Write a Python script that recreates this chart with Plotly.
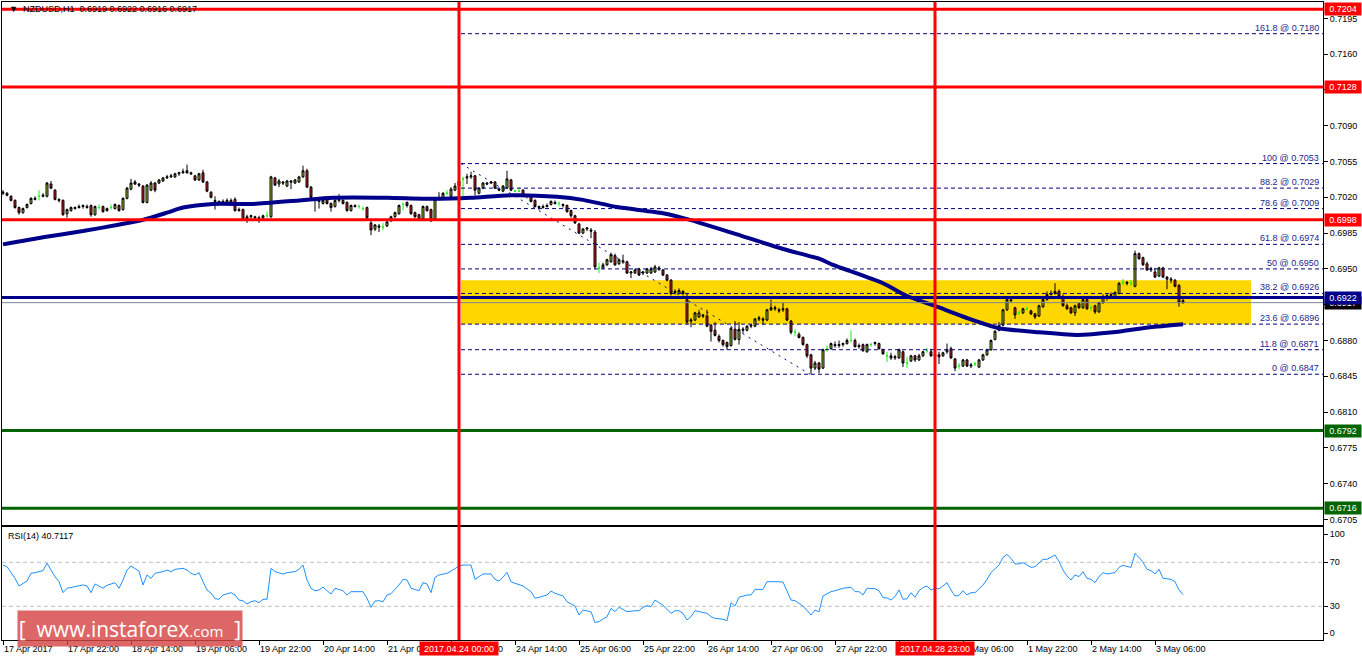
import plotly.graph_objects as go

# ---------------- DATA (prices in pips, 0.xxxx * 10000) ----------------
opens = [
7024,7024,7021,7017,7010,7005,7010,7014,7019,7021,7021,7021,7033,7027,7018,7017,7004,7007,7009,7010,
7011,7011,7012,7003,7010,7011,7007,7010,7009,7012,7008,7019,7028,7035,7033,7031,7015,7027,7034,7034,
7036,7039,7040,7040,7043,7044,7046,7044,7041,7037,7044,7035,7025,7017,7016,7015,7017,7014,7018,7007,
7008,6999,7001,7001,7000,7000,7002,7001,7039,7033,7035,7031,7036,7034,7035,7040,7046,7030,7019,7017,
7014,7018,7014,7011,7017,7017,7015,7007,7012,7011,7009,7010,6995,6989,6992,6991,6992,6997,7001,7004,
7013,7015,7012,7005,7003,6999,7011,7008,6998,7018,7020,7024,7021,7027,7031,7038,7039,7040,7041,7024,
7029,7034,7034,7035,7028,7026,7029,7037,7026,7026,7027,7022,7021,7017,7011,7010,7011,7013,7015,7014,
7013,7012,7007,7002,6994,6985,6989,6988,6986,6951,6951,6954,6957,6963,6955,6958,6957,6946,6946,6950,
6946,6946,6946,6947,6951,6949,6944,6939,6927,6926,6928,6920,6899,6900,6903,6905,6904,6895,6890,6884,
6880,6878,6875,6891,6881,6890,6890,6894,6894,6901,6901,6900,6910,6911,6910,6910,6911,6899,6888,6886,
6883,6876,6866,6853,6858,6853,6872,6872,6876,6875,6876,6877,6880,6880,6874,6876,6869,6876,6877,6877,
6871,6865,6865,6863,6863,6869,6858,6860,6865,6861,6865,6870,6869,6865,6866,6865,6869,6872,6862,6855,
6855,6861,6855,6857,6854,6861,6866,6871,6881,6890,6895,6910,6920,6912,6907,6907,6911,6909,6906,6904,
6913,6920,6925,6926,6928,6923,6914,6912,6907,6916,6912,6920,6912,6914,6908,6917,6921,6924,6923,6926,
6937,6937,6936,6933,6965,6961,6955,6949,6947,6943,6951,6942,6939,6939,6934,6919]
highs = [
7027,7025,7022,7018,7011,7010,7014,7020,7021,7027,7024,7035,7036,7028,7019,7018,7009,7011,7011,7013,
7013,7013,7013,7012,7013,7012,7010,7013,7014,7013,7020,7030,7038,7037,7034,7032,7033,7036,7035,7038,
7040,7042,7043,7044,7045,7048,7052,7045,7042,7044,7047,7036,7026,7021,7017,7018,7019,7019,7020,7010,
7009,7003,7003,7002,7002,7003,7006,7041,7040,7038,7036,7037,7037,7038,7041,7051,7048,7031,7020,7019,
7018,7019,7015,7018,7023,7018,7016,7013,7013,7013,7011,7011,6999,6994,6994,6995,6997,7002,7006,7013,
7015,7016,7013,7006,7004,7012,7012,7009,7019,7025,7025,7027,7030,7034,7053,7040,7043,7045,7042,7030,
7035,7035,7036,7036,7029,7032,7046,7038,7027,7030,7028,7023,7022,7018,7012,7013,7014,7017,7017,7016,
7014,7013,7008,7003,6995,6990,6991,6990,6988,6956,6956,6960,6966,6965,6960,6964,6958,6948,6950,6951,
6948,6951,6952,6954,6953,6950,6945,6940,6930,6931,6929,6926,6902,6908,6910,6906,6910,6896,6898,6886,
6881,6879,6893,6899,6898,6893,6895,6896,6902,6904,6903,6911,6920,6914,6912,6917,6912,6900,6891,6888,
6884,6877,6867,6860,6859,6872,6875,6878,6879,6880,6878,6882,6890,6882,6877,6877,6877,6878,6879,6878,
6872,6869,6868,6866,6872,6870,6864,6866,6866,6867,6870,6873,6872,6868,6869,6869,6877,6874,6863,6858,
6862,6862,6858,6859,6862,6867,6872,6881,6890,6898,6911,6922,6922,6913,6909,6912,6913,6910,6907,6915,
6922,6928,6929,6936,6930,6925,6916,6913,6915,6917,6922,6922,6915,6915,6918,6925,6926,6927,6928,6937,
6940,6938,6939,6968,6966,6962,6957,6952,6951,6952,6952,6943,6942,6940,6935,6922]
lows = [
7022,7021,7016,7009,7003,7004,7009,7013,7017,7017,7020,7020,7028,7017,7015,7002,7000,7006,7008,7009,
7009,7009,7001,7002,7008,7005,7006,7008,7008,7006,7007,7018,7027,7032,7030,7014,7014,7026,7025,7033,
7035,7038,7039,7039,7041,7043,7043,7042,7036,7036,7034,7025,7019,7008,7013,7014,7013,7013,7006,7006,
6997,6995,6999,6998,6995,6999,7000,7000,7031,7030,7032,7030,7028,7033,7034,7039,7029,7019,7006,7009,
7013,7013,7006,7010,7015,7013,7006,7006,7010,7009,7007,6999,6983,6987,6986,6988,6991,6996,7000,7003,
7007,7010,7003,7000,6997,6998,7006,6996,6997,7017,7019,7022,7020,7026,7030,7021,7033,7038,7022,7023,
7028,7032,7033,7028,7026,7025,7028,7026,7025,7025,7021,7019,7015,7010,7008,7009,7010,7012,7013,7011,
7010,7005,7000,6994,6984,6984,6987,6980,6950,6946,6950,6953,6956,6953,6954,6955,6945,6941,6945,6943,
6944,6945,6945,6946,6948,6943,6938,6924,6925,6925,6924,6896,6893,6899,6902,6902,6893,6879,6884,6878,
6874,6871,6874,6880,6876,6887,6889,6892,6893,6899,6895,6899,6909,6909,6907,6908,6899,6886,6884,6882,
6875,6863,6847,6851,6848,6852,6869,6871,6873,6873,6874,6876,6878,6873,6872,6869,6868,6874,6875,6871,
6866,6859,6861,6861,6862,6854,6853,6859,6859,6860,6864,6868,6864,6863,6857,6864,6867,6862,6850,6852,
6854,6854,6853,6855,6853,6860,6865,6870,6880,6889,6894,6909,6917,6901,6905,6906,6909,6905,6901,6903,
6912,6919,6924,6925,6922,6913,6910,6906,6904,6911,6911,6910,6909,6906,6907,6916,6919,6922,6922,6925,
6934,6934,6933,6932,6959,6953,6948,6947,6941,6942,6941,6930,6936,6932,6913,6916]
closes = [
7025,7022,7017,7010,7005,7009,7013,7019,7018,7021,7022,7034,7029,7018,7017,7003,7008,7010,7010,7011,
7012,7010,7003,7011,7010,7006,7009,7010,7013,7007,7019,7029,7034,7033,7032,7015,7032,7034,7027,7037,
7039,7040,7041,7043,7044,7045,7044,7043,7037,7043,7035,7026,7020,7016,7015,7016,7014,7017,7007,7008,
6998,7001,7002,7000,6999,7002,7002,7040,7032,7036,7034,7036,7035,7037,7040,7046,7030,7020,7018,7016,
7017,7014,7010,7017,7018,7014,7007,7012,7011,7011,7009,7000,6988,6993,6991,6991,6996,7001,7005,7012,
7013,7012,7004,7001,6998,7011,7007,6997,7018,7020,7024,7024,7028,7031,7036,7038,7040,7041,7027,7029,
7034,7033,7035,7029,7027,7031,7038,7027,7026,7026,7022,7021,7016,7011,7010,7011,7012,7016,7014,7014,
7012,7006,7002,6995,6985,6989,6990,6987,6952,6951,6954,6959,6964,6954,6959,6957,6946,6947,6949,6944,
6947,6950,6950,6952,6950,6944,6939,6926,6928,6929,6926,6898,6900,6907,6907,6904,6894,6889,6885,6880,
6876,6874,6892,6881,6891,6891,6894,6895,6901,6902,6900,6910,6912,6912,6909,6911,6900,6888,6888,6883,
6876,6865,6853,6858,6852,6871,6872,6877,6875,6876,6877,6880,6880,6874,6875,6870,6876,6876,6878,6872,
6867,6865,6863,6864,6871,6858,6858,6865,6861,6865,6869,6870,6865,6866,6864,6868,6871,6863,6853,6855,
6861,6855,6856,6857,6861,6866,6871,6880,6889,6895,6910,6920,6919,6905,6907,6911,6911,6906,6903,6914,
6920,6925,6926,6928,6923,6914,6911,6907,6914,6912,6920,6911,6912,6908,6917,6923,6924,6925,6927,6936,
6937,6936,6936,6965,6960,6954,6949,6950,6942,6951,6942,6940,6940,6933,6917,6917]

# moving average (read at turning points): bar index, price in pips
ma_x = [0, 10, 20, 28.5, 35, 41, 45, 52.5, 62.5, 74, 82.5, 96, 107.5, 117, 127, 138.5, 145,
        153.5, 165, 171.75, 182.5, 195, 204, 207.5, 220, 226, 232.5, 241, 249, 259, 268.5,
        277.5, 286.75, 295]
ma_pips = [6974, 6981, 6987, 6993, 6998, 7005, 7010, 7013.5, 7013.5, 7017, 7019.5, 7019.5,
           7018.5, 7019.5, 7022, 7020.5, 7017.5, 7010.5, 7004.5, 6998, 6985, 6969.5, 6960, 6954,
           6936, 6923.5, 6914.5, 6902, 6892, 6888, 6885.5, 6888, 6893, 6896]

# RSI(14) read at bar indices
rsi_x = [0,1,3,4,6,7,8,10,11,13,14,15,16,18,20,21,22,23,25,26,28,29,30,31,32,34,35,36,37,38,40,41,42,43,45,
         46,47,48,49,50,51,52,53,54,55,57,58,59,60,61,62,63,64,65,66,67,68,70,71,73,74,75,76,77,78,79,80,81,82,
         83,84,85,86,87,88,90,91,92,93,94,95,96,97,99,100,101,102,103,104,105,106,107,108,109,111,112,113,114,
         115,117,118,120,122,123,124,125,126,127,128,130,132,133,134,136,137,138,140,141,143,144,145,147,148,
         149,150,151,152,153,154,155,156,158,159,160,161,162,163,164,165,167,168,169,170,171,172,173,174,176,
         177,178,180,181,182,183,184,186,187,188,190,191,193,195,197,198,200,202,203,204,205,207,208,210,212,
         213,214,215,216,218,219,220,221,222,223,224,225,226,227,228,229,230,231,232,233,234,235,236,237,238,
         239,240,241,242,243,244,245,246,247,249,250,251,252,253,254,255,256,257,258,260,261,262,263,264,265,
         266,267,268,269,270,271,272,273,274,275,276,277,278,279,280,282,283,284,285,286,287,288,289,290,291,
         292,293,294,295]
rsi_v = [67.5,66,55.4,48.5,53,60,60.6,62.4,69.1,56.9,52.4,42.4,46.4,47.8,49.4,48.5,42.4,50.3,46.4,49.1,51.5,
         46.4,53.9,63,66.6,62,49.4,58.5,55.4,60,61.5,63,61.5,63.6,64.5,63,60,58.5,60.6,52.4,44.8,42,37,36.4,
         40.3,42.4,40.3,35.7,35.1,32.1,34.2,35.1,33.3,36.4,36.4,64.5,61.5,59.3,60.6,61.5,63.6,67.5,53.9,46.4,
         44.2,44.8,47.5,44.2,41.2,46.4,45.4,44.2,40.3,43.3,43.3,43.3,37.3,29.1,34.8,35.1,34.2,40.3,41.5,49.4,
         54.5,53.9,46.4,45.4,44.2,51.5,50.3,42.4,56.4,58.5,60,62,64.5,66.6,67.5,67.5,54.5,59.4,59.4,54.5,53,
         56.4,60.9,52.4,50.9,48.5,43.3,37.3,38.2,40.3,43.9,41.8,39.4,34.2,30.3,22.1,26.6,25.1,15.3,16.1,18.5,
         20.6,28.1,25.1,29.1,27.2,25.1,26,26,29.1,30.6,29.7,35.7,33.3,31,23.6,26,26,23.6,17.6,20.6,26,25.1,
         23.6,20.6,19.1,18.2,17,33.3,30.3,38.2,40.3,40.3,45.4,45.4,52.4,52.4,52.1,35.7,35.1,30.3,22.1,26.6,
         25.1,39.4,43.3,44.2,46.4,47.3,43.3,43.3,40.3,46.4,46.1,44.2,37.9,37.6,35.7,38.8,45,36.4,36.9,42.4,
         38.2,44.2,47,48.5,44.8,46.4,45.8,48.5,51.5,44.8,39.4,40,44.2,40.3,42.4,42.4,46,49.4,54.5,60.6,67.5,
         74.5,77.2,73.6,68.5,68.5,69.7,67.5,65.4,66,72.7,72.7,74.5,76.6,70.6,63,57.6,53.9,58.5,57,61.5,55.5,
         54.5,51.5,57,60.6,59.4,60,60.6,65.4,67.2,65.4,78.1,74.5,70,63.6,62.4,59.4,63.6,55.5,55,54.5,52.4,
         44.8,40.7]

# levels
red_levels = [0.7204, 0.7128, 0.6998]
green_levels = [0.6792, 0.6716]
navy_level = 0.6922
bid_price = 0.6917
fib_ratios = ["161.8", "100", "88.2", "78.6", "61.8", "50", "38.2", "23.6", "11.8", "0"]
fib_prices = [0.7180, 0.7053, 0.7029, 0.7009, 0.6974, 0.6950, 0.6926, 0.6896, 0.6871, 0.6847]
zone_low, zone_high = 0.6896, 0.6939
vline_bars = [114, 233]
vline_labels = ["2017.04.24 00:00", "2017.04.28 23:00"]
price_ticks = [0.7195, 0.7160, 0.7125, 0.7090, 0.7055, 0.7020, 0.6985, 0.6950, 0.6915, 0.6880,
               0.6845, 0.6810, 0.6775, 0.6740, 0.6705]
time_tick_bars = [0, 16, 32, 48, 64, 80, 96, 112, 128, 144, 160, 176, 192, 208, 224, 240, 256, 272, 288]
time_tick_text = ["17 Apr 2017", "17 Apr 22:00", "18 Apr 14:00", "19 Apr 06:00", "19 Apr 22:00",
                  "20 Apr 14:00", "21 Apr 06:00", "21 Apr 22:00", "24 Apr 14:00", "25 Apr 06:00",
                  "25 Apr 22:00", "26 Apr 14:00", "27 Apr 06:00", "27 Apr 22:00", "28 Apr 14:00",
                  "1 May 06:00", "1 May 22:00", "2 May 14:00", "3 May 06:00"]
rsi_tick_vals = [95.7, 70, 30, 5.5]
rsi_tick_text = ["100", "70", "30", "0"]

# ---------------- FIGURE ----------------
W, H = 1362, 661
ML, MR, MT, MB = 2, 39, 2, 21
PH = H - MT - MB
FONT = "Liberation Sans, Arial, sans-serif"


def py(pix):  # paper y from pixel y
    return (H - MB - pix) / PH


def px(pix):
    return (pix - ML) / (W - ML - MR)


n = len(opens)
idx = list(range(n))
O = [v / 10000 for v in opens]
Hh = [v / 10000 for v in highs]
L = [v / 10000 for v in lows]
C = [v / 10000 for v in closes]
doji = [i for i in idx if opens[i] == closes[i]]
body = [i for i in idx if opens[i] != closes[i]]

fig = go.Figure()
fig.add_trace(go.Candlestick(
    x=[idx[i] for i in body], open=[O[i] for i in body], high=[Hh[i] for i in body],
    low=[L[i] for i in body], close=[C[i] for i in body],
    increasing=dict(line=dict(color="black", width=1), fillcolor="#9acd32"),
    decreasing=dict(line=dict(color="black", width=1), fillcolor="#d81e1e"),
    whiskerwidth=0, showlegend=False, xaxis="x", yaxis="y"))
fig.add_trace(go.Candlestick(
    x=[idx[i] for i in doji], open=[O[i] for i in doji], high=[Hh[i] for i in doji],
    low=[L[i] for i in doji], close=[C[i] for i in doji],
    increasing=dict(line=dict(color="#22ee22", width=1), fillcolor="#22ee22"),
    decreasing=dict(line=dict(color="#22ee22", width=1), fillcolor="#22ee22"),
    whiskerwidth=0, showlegend=False, xaxis="x", yaxis="y"))
fig.add_trace(go.Scatter(x=ma_x, y=[v / 10000 for v in ma_pips], mode="lines",
                         line=dict(color="#00008b", width=4, shape="spline", smoothing=0.6),
                         showlegend=False, xaxis="x", yaxis="y"))
fig.add_trace(go.Scatter(x=rsi_x, y=rsi_v, mode="lines", line=dict(color="#1e90ff", width=1),
                         showlegend=False, xaxis="x2", yaxis="y2"))

shapes = []
shapes.append(dict(type="rect", xref="x", yref="y", x0=114.5, x1=312, y0=zone_low, y1=zone_high,
                   fillcolor="#ffd700", line=dict(width=0), layer="below"))
for p in fib_prices:
    shapes.append(dict(type="line", xref="x", yref="y", x0=114.5, x1=330, y0=p, y1=p,
                       line=dict(color="#000080", width=1, dash="4px,3px"), layer="above"))
shapes.append(dict(type="line", xref="x", yref="y", x0=114.5, x1=201.75, y0=fib_prices[1], y1=fib_prices[-1],
                   line=dict(color="#000080", width=1, dash="2px,5px"), layer="above"))
shapes.append(dict(type="line", xref="x domain", yref="y", x0=0, x1=1, y0=bid_price, y1=bid_price,
                   line=dict(color="#778899", width=1), layer="above"))
for p in red_levels:
    shapes.append(dict(type="line", xref="x domain", yref="y", x0=0, x1=1, y0=p, y1=p,
                       line=dict(color="#ff0000", width=3), layer="above"))
for p in green_levels:
    shapes.append(dict(type="line", xref="x domain", yref="y", x0=0, x1=1, y0=p, y1=p,
                       line=dict(color="#006400", width=3), layer="above"))
shapes.append(dict(type="line", xref="x domain", yref="y", x0=0, x1=1, y0=navy_level, y1=navy_level,
                   line=dict(color="#00008b", width=3), layer="above"))
for lv in (70, 30):
    shapes.append(dict(type="line", xref="x2 domain", yref="y2", x0=0, x1=1, y0=lv, y1=lv,
                       line=dict(color="#c0c0c0", width=1, dash="4px,3px"), layer="below"))
for b in vline_bars:
    shapes.append(dict(type="line", xref="x", yref="paper", x0=b, x1=b, y0=0, y1=1,
                       line=dict(color="#ff0000", width=3), layer="above"))

ann = []
ann.append(dict(xref="paper", yref="paper", x=px(7), y=py(9), xanchor="left", yanchor="middle",
                text="▼  NZDUSD,H1  0.6919 0.6922 0.6916 0.6917", showarrow=False,
                font=dict(size=9, color="black", family=FONT)))
ann.append(dict(xref="paper", yref="paper", x=px(6), y=py(536), xanchor="left", yanchor="middle",
                text="RSI(14) 40.7117", showarrow=False, font=dict(size=9, color="black", family=FONT)))
for r, p in zip(fib_ratios, fib_prices):
    ann.append(dict(xref="x", yref="y", x=329.3, y=p, xanchor="right", yanchor="bottom",
                    text=f"{r} @ {p:.4f}", showarrow=False, borderpad=0,
                    font=dict(size=9, color="#1e1e8c", family=FONT)))


def price_label(p, bg, txt=None):
    return dict(xref="paper", yref="y", x=1, y=p, xanchor="left", yanchor="middle", xshift=1,
                text=txt or f"{p:.4f}", showarrow=False, bgcolor=bg, borderpad=1, width=34, height=10,
                font=dict(size=9, color="white", family=FONT))


ann.append(price_label(bid_price, "#000000"))
for p in red_levels:
    ann.append(price_label(p, "#ff0000"))
for p in green_levels:
    ann.append(price_label(p, "#006400"))
ann.append(price_label(navy_level, "#00008b"))
for b, t in zip(vline_bars, vline_labels):
    ann.append(dict(xref="x", yref="paper", x=b, y=py(648.5), xanchor="center", yanchor="middle",
                    text=t, showarrow=False, bgcolor="#ff0000", borderpad=1, width=76, height=11,
                    font=dict(size=9, color="white", family=FONT)))
ann.append(dict(xref="paper", yref="paper", x=px(17), y=py(610), xanchor="left", yanchor="top",
                text="[  www.instaforex<span style='font-size:15px'>.com</span>  ]", showarrow=False,
                bgcolor="rgba(214,70,70,0.82)", width=224, height=35, borderpad=0,
                font=dict(size=21, color="white", family="Open Sans, Liberation Sans, sans-serif")))

axis_common = dict(showline=True, linecolor="black", linewidth=1, mirror=True, showgrid=False,
                   zeroline=False)
fig.update_layout(
    width=W, height=H, margin=dict(l=ML, r=MR, t=MT, b=MB),
    paper_bgcolor="white", plot_bgcolor="white", showlegend=False,
    font=dict(family=FONT, size=9, color="black"),
    xaxis=dict(domain=[0, 1], range=[-0.25, 330], anchor="y", showticklabels=False, ticks="",
               rangeslider=dict(visible=False), **axis_common),
    yaxis=dict(domain=[py(525.3), 1], range=[0.66993, 0.72110], side="right", anchor="x",
               tickvals=price_ticks, tickformat=".4f", ticks="outside", ticklen=4, tickcolor="black",
               tickfont=dict(size=9, family=FONT, color="black"), **axis_common),
    xaxis2=dict(domain=[0, 1], range=[-0.25, 330], anchor="y2", matches="x",
                tickvals=time_tick_bars, ticktext=time_tick_text, ticks="outside", ticklen=4,
                tickcolor="black", tickangle=0, ticklabelposition="outside right",
                tickfont=dict(size=9, family=FONT, color="black"), **axis_common),
    yaxis2=dict(domain=[0, py(527.3)], range=[-0.6, 101.8], side="right", anchor="x2",
                tickvals=rsi_tick_vals, ticktext=rsi_tick_text, ticks="outside", ticklen=4,
                tickcolor="black", tickfont=dict(size=9, family=FONT, color="black"), **axis_common),
    shapes=shapes, annotations=ann,
)

fig.write_html("out.html", config={"displayModeBar": False},
               post_script="document.body.style.margin='0px';document.body.style.overflow='hidden';")
